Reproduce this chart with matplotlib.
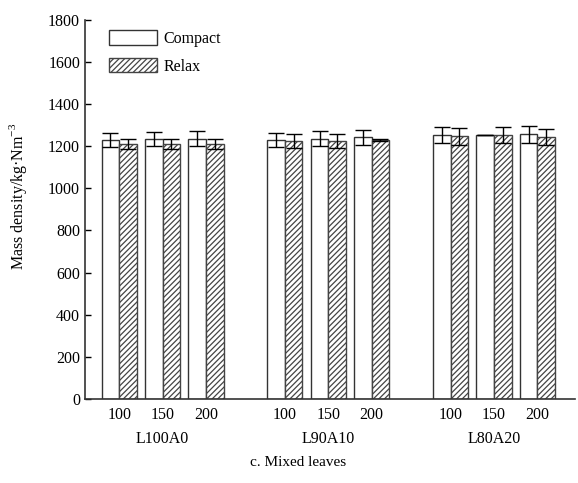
import numpy as np
import matplotlib
matplotlib.use("Agg")
import matplotlib.pyplot as plt

plt.rcParams['font.family'] = ['Liberation Serif', 'DejaVu Serif']
plt.rcParams['mathtext.fontset'] = 'custom'
plt.rcParams['mathtext.rm'] = 'Liberation Serif'
plt.rcParams['hatch.color'] = '#444444'
plt.rcParams['hatch.linewidth'] = 0.9

# data
groups = ['L100A0', 'L90A10', 'L80A20']
levels = ['100', '150', '200']
compact = [1228, 1235, 1235, 1228, 1235, 1242, 1253, 1253, 1256]
compact_err = [33, 34, 36, 34, 36, 36, 38, 0, 40]
relax = [1210, 1210, 1210, 1225, 1225, 1231, 1247, 1253, 1245]
relax_err = [22, 22, 22, 35, 34, 4, 40, 38, 38]

gap = 3.82
x = np.array([g * gap + i for g in range(len(groups)) for i in range(len(levels))])
w = 0.404

fig = plt.figure(figsize=(5.78, 4.83), dpi=100)
ax = fig.add_axes([0.147, 0.174, 0.848, 0.785])

ax.bar(x - w / 2, compact, w, color='white', edgecolor='#333333', linewidth=1.0,
       label='Compact')
ax.bar(x + w / 2, relax, w, color='white', edgecolor='#444444', linewidth=1.0,
       hatch='//////', label='Relax')
ax.errorbar(x - w / 2, compact, yerr=compact_err, fmt='none', ecolor='black',
            elinewidth=1.0, capsize=5.5, capthick=1.0)
ax.errorbar(x + w / 2, relax, yerr=relax_err, fmt='none', ecolor='black',
            elinewidth=1.0, capsize=5.5, capthick=1.0)

ax.set_xlim(-0.79, x[-1] + 0.87)
ax.set_ylim(0, 1800)
ax.set_yticks(range(0, 1801, 200))
ax.set_xticks(x)
ax.set_xticklabels(levels * len(groups))
ax.tick_params(axis='y', direction='in', length=4, labelsize=11.5, width=1)
ax.tick_params(axis='x', length=0, labelsize=11.5, pad=6)

for s in ['top', 'right']:
    ax.spines[s].set_visible(False)
for s in ['left', 'bottom']:
    ax.spines[s].set_linewidth(1.2)
    ax.spines[s].set_color('#333333')

centers = [g * gap + 1 for g in range(len(groups))]
for c, g in zip(centers, groups):
    ax.text(c, -0.085, g, transform=ax.get_xaxis_transform(), ha='center',
            va='top', fontsize=11.5)

ax.set_ylabel('Mass density/kg·Nm$^{-3}$', fontsize=11.5)
ax.yaxis.set_label_coords(-0.115, 0.535)

ax.legend(loc='upper left', bbox_to_anchor=(0.02, 1.01), frameon=False,
          handlelength=3.0, handleheight=1.0, fontsize=11.5, labelspacing=0.7,
          handletextpad=0.4)

fig.text(0.515, 0.043, 'c. Mixed leaves', ha='center', va='center', fontsize=11)

fig.savefig('out.png', dpi=100)
